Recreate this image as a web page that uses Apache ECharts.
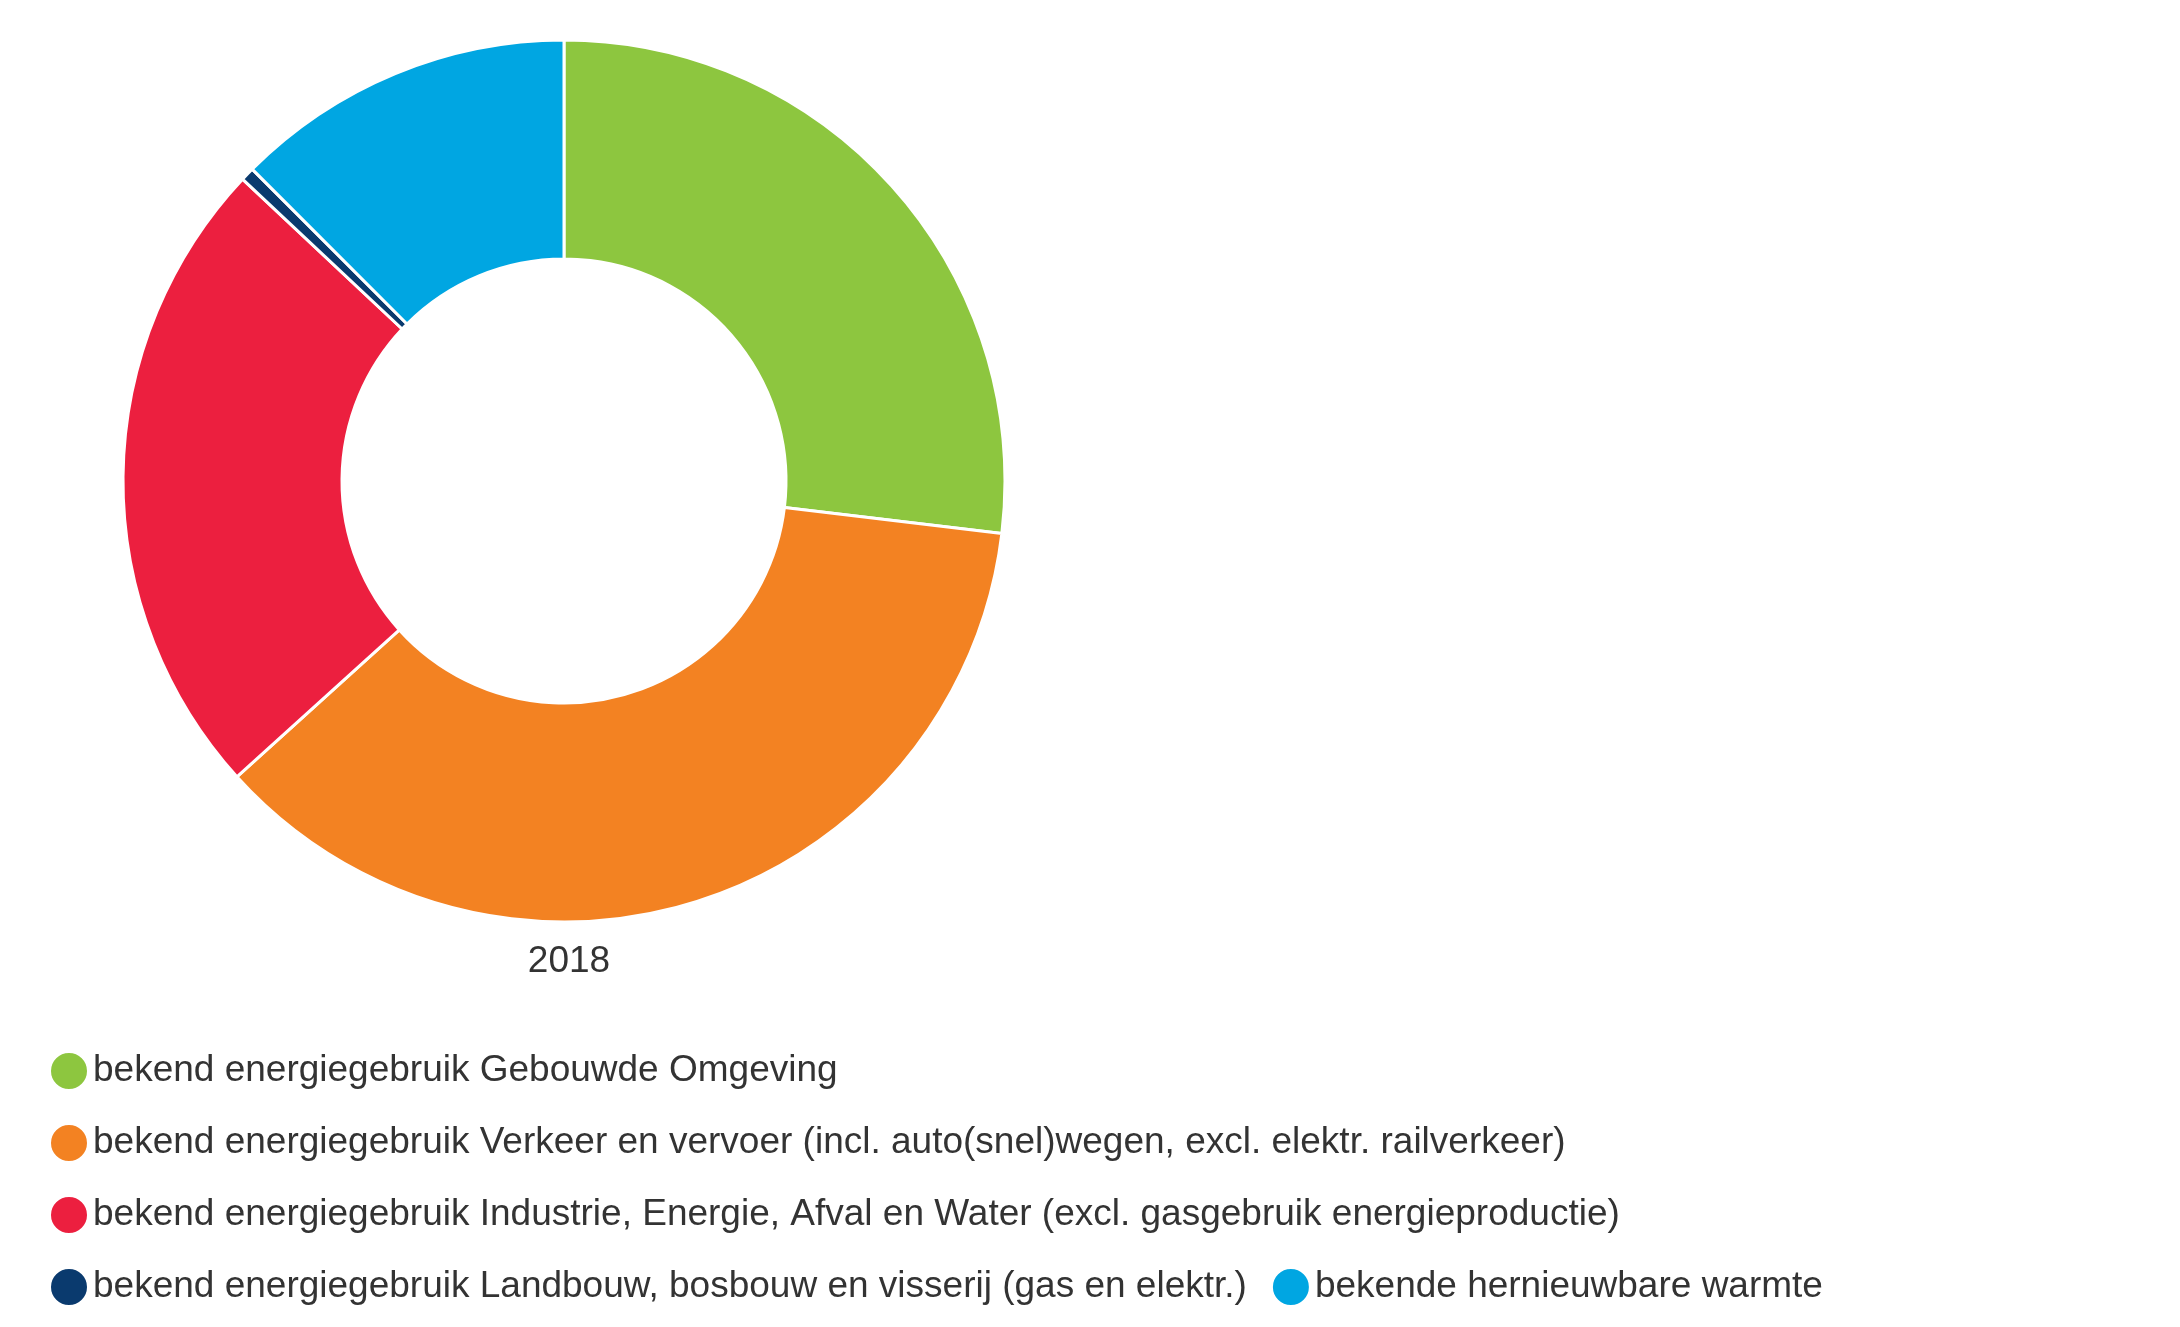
<!DOCTYPE html>
<html><head><meta charset="utf-8">
<script src="https://cdn.jsdelivr.net/npm/echarts@6/dist/echarts.min.js"></script>
<style>html,body{margin:0;padding:0;background:#fff}#c{width:2180px;height:1327px}</style>
</head><body><div id="c"></div>
<script>
const categories = [
  'bekend energiegebruik Gebouwde Omgeving',
  'bekend energiegebruik Verkeer en vervoer (incl. auto(snel)wegen, excl. elektr. railverkeer)',
  'bekend energiegebruik Industrie, Energie, Afval en Water (excl. gasgebruik energieproductie)',
  'bekend energiegebruik Landbouw, bosbouw en visserij (gas en elektr.)',
  'bekende hernieuwbare warmte'
];
const values = [26.9, 36.4, 23.7, 0.5, 12.5];
const colors = ['#8dc63f', '#f38222', '#ec1f3f', '#0a3a6e', '#00a6e2'];
const year = '2018';
const chart = echarts.init(document.getElementById('c'));
chart.setOption({
  animation: false,
  color: colors,
  title: { text: year, left: 564, top: 938, textAlign: 'center',
    textStyle: { fontSize: 37, fontWeight: 'normal', color: '#333', fontFamily: 'Arial, Liberation Sans' } },
  legend: {
    left: 44, right: 0, top: 1042, icon: 'circle', itemWidth: 38, itemHeight: 38, itemGap: 24,
    textStyle: { fontSize: 37, color: '#333', lineHeight: 48, fontFamily: 'Arial, Liberation Sans' }
  },
  series: [{
    type: 'pie', center: [564, 481], radius: [222, 441], startAngle: 90, clockwise: true,
    label: { show: false }, labelLine: { show: false },
    itemStyle: { borderColor: '#fff', borderWidth: 3 },
    data: categories.map((n, i) => ({ name: n, value: values[i] }))
  }]
});
</script></body></html>
